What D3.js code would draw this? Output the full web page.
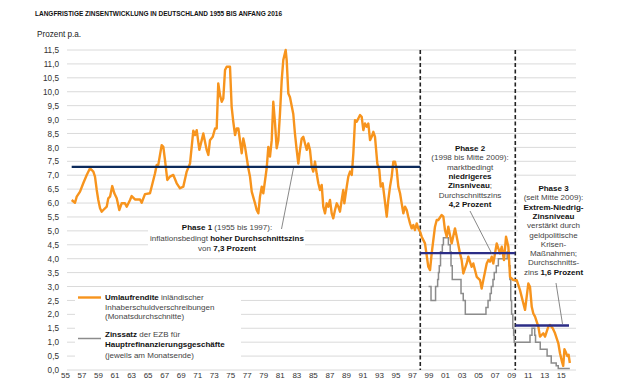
<!DOCTYPE html>
<html><head><meta charset="utf-8">
<script src="https://cdn.jsdelivr.net/npm/d3@7"></script>
<style>
body{margin:0;background:#fff;}
svg{display:block;font-family:"Liberation Sans",Arial,sans-serif;}
</style></head>
<body>
<svg id="c" width="621" height="383"></svg>
<script>
// ---- data ----
const umlaufYears = [1955.81,1956.21,1956.42,1956.82,1957.21,1957.63,1958.03,1958.43,1958.63,1958.84,1959.03,1959.24,1959.44,1959.64,1960.05,1960.24,1960.45,1960.72,1960.97,1961.26,1961.57,1961.86,1962.26,1962.47,1962.87,1963.07,1963.47,1964.08,1964.28,1964.68,1965.29,1965.89,1966.10,1966.29,1966.70,1966.90,1967.10,1967.38,1967.71,1968.11,1968.52,1968.92,1969.32,1969.73,1970.13,1970.53,1970.73,1970.94,1971.26,1971.55,1971.74,1972.15,1972.35,1972.55,1972.88,1973.16,1973.36,1973.55,1973.76,1973.97,1974.16,1974.37,1974.57,1974.97,1975.17,1975.37,1975.58,1975.78,1975.98,1976.39,1976.58,1976.79,1977.19,1977.39,1977.60,1978.00,1978.20,1978.40,1978.60,1978.81,1979.00,1979.41,1979.61,1979.81,1980.02,1980.21,1980.42,1980.62,1980.82,1981.02,1981.23,1981.42,1981.71,1981.83,1982.03,1982.23,1982.63,1982.83,1983.04,1983.24,1983.44,1983.65,1983.84,1984.05,1984.26,1984.45,1984.65,1984.86,1985.05,1985.26,1985.46,1985.66,1985.86,1986.07,1986.26,1986.47,1986.67,1986.87,1987.07,1987.28,1987.47,1987.68,1987.89,1988.08,1988.28,1988.49,1988.68,1988.81,1989.10,1989.29,1989.50,1989.71,1989.90,1990.10,1990.31,1990.50,1990.71,1990.91,1991.11,1991.31,1991.52,1991.71,1991.92,1992.12,1992.32,1992.52,1992.80,1993.04,1993.21,1993.45,1993.65,1993.94,1994.13,1994.34,1994.54,1994.74,1994.94,1995.15,1995.34,1995.55,1995.75,1995.95,1996.15,1996.36,1996.55,1996.76,1996.96,1997.16,1997.36,1997.57,1997.76,1997.97,1998.17,1998.57,1998.97,1999.18,1999.38,1999.78,1999.99,2000.18,2000.59,2000.79,2000.99,2001.20,2001.39,2001.80,2002.20,2002.41,2002.81,2003.01,2003.21,2003.62,2003.81,2004.22,2004.42,2004.83,2005.23,2005.43,2005.63,2006.04,2006.24,2006.44,2006.65,2006.84,2007.25,2007.65,2007.86,2008.13,2008.38,2008.66,2008.86,2009.26,2009.67,2010.07,2010.47,2010.68,2011.08,2011.28,2011.49,2011.68,2011.89,2012.29,2012.49,2012.89,2013.10,2013.50,2013.70,2014.03,2014.31,2014.71,2014.91,2015.15,2015.30,2015.45,2015.60,2015.80,2015.95,2016.10];
const umlaufValues = [6.11,6.01,6.23,6.41,6.71,7.01,7.25,7.13,6.95,6.47,6.11,5.81,5.69,5.75,5.87,6.17,6.23,6.61,6.35,6.17,5.75,5.99,5.99,5.87,6.11,6.25,6.13,6.13,6.01,6.32,6.35,7.06,7.37,7.37,8.08,8.02,7.55,6.83,6.95,7.01,6.71,6.53,6.59,7.13,7.42,8.60,8.44,8.62,7.91,8.26,8.50,7.91,7.73,8.26,8.38,8.68,8.68,10.30,9.88,9.64,9.76,10.78,10.90,10.90,9.46,8.92,8.44,8.68,8.68,7.79,8.32,8.02,7.25,6.95,6.41,5.99,5.75,5.63,6.23,6.59,6.35,7.25,8.02,7.67,8.26,9.64,8.86,7.97,8.26,9.22,10.42,11.14,11.50,11.14,9.94,9.80,9.20,8.50,7.91,7.42,7.91,8.32,8.38,8.14,7.91,8.14,7.91,7.31,7.13,7.49,7.06,6.71,6.47,6.65,5.87,5.63,5.99,5.87,6.11,5.63,5.45,5.75,5.99,5.87,5.69,6.11,6.47,5.99,6.59,6.95,7.13,7.01,7.79,8.98,8.92,9.04,9.16,9.10,8.62,8.86,8.74,8.86,8.26,8.38,8.56,8.38,7.42,7.19,6.59,6.71,6.23,5.51,6.11,6.59,6.95,7.49,7.49,7.19,6.59,6.35,5.99,5.63,5.87,5.75,5.51,5.27,5.09,5.21,5.03,5.27,5.09,4.97,4.79,4.55,3.71,3.59,4.19,5.15,5.39,5.39,5.57,5.51,5.03,4.79,5.15,4.55,5.09,4.79,4.19,3.95,3.47,3.83,4.07,3.71,3.83,3.35,3.23,2.93,3.23,3.83,3.95,3.89,4.07,3.83,4.55,4.19,4.43,3.95,4.79,4.43,3.35,3.23,3.23,2.87,2.40,2.16,3.11,2.99,2.27,2.03,1.92,1.56,1.20,1.32,1.20,1.56,1.62,1.50,1.32,0.96,0.60,0.30,0.15,0.75,0.65,0.50,0.55,0.25];
const ezbYears = [1999.0,1999.3,1999.85,2000.1,2000.2,2000.3,2000.45,2000.67,2000.8,2001.4,2001.62,2001.72,2001.87,2002.93,2003.2,2003.45,2005.95,2006.2,2006.45,2006.6,2006.8,2006.95,2007.2,2007.45,2008.52,2008.77,2008.85,2008.95,2009.05,2009.2,2009.3,2009.37,2011.28,2011.52,2011.85,2011.95,2012.52,2013.35,2013.85,2014.45,2014.7,2016.1];
const ezbValues = [3.0,2.5,3.0,3.25,3.5,3.75,4.25,4.5,4.75,4.5,4.25,3.75,3.25,2.75,2.5,2.0,2.25,2.5,2.75,3.0,3.25,3.5,3.75,4.0,4.25,3.75,3.25,2.5,2.0,1.5,1.25,1.0,1.25,1.5,1.25,1.0,0.75,0.5,0.25,0.15,0.05,0.05];
const phaseStarts = [1955.81, 1998.0, 2009.5];
const phaseEnds = [1998.0, 2009.5, 2016.0];
const phaseAverages = [7.3, 4.2, 1.6];
const phaseDividers = [1998.0, 2009.5];
const yTicks = [0,0.5,1,1.5,2,2.5,3,3.5,4,4.5,5,5.5,6,6.5,7,7.5,8,8.5,9,9.5,10,10.5,11,11.5];
const xTickYears = [1955,1957,1959,1961,1963,1965,1967,1969,1971,1973,1975,1977,1979,1981,1983,1985,1987,1989,1991,1993,1995,1997,1999,2001,2003,2005,2007,2009,2011,2013,2015];

// ---- chart ----
const svg = d3.select("#c");
const x = d3.scaleLinear().domain([1955, 2016]).range([65, 569]);
const y = d3.scaleLinear().domain([0, 11.5]).range([370, 50]);
const gridL = 67, gridR = 576;
const orange = "#f7941d", grey = "#8c8c8c";

svg.append("text").attr("x", 35).attr("y", 15.5).attr("font-size", 7.4).attr("font-weight", "bold")
  .attr("fill", "#111").attr("textLength", 247).attr("lengthAdjust", "spacingAndGlyphs")
  .text("LANGFRISTIGE ZINSENTWICKLUNG IN DEUTSCHLAND 1955 BIS ANFANG 2016");
svg.append("text").attr("x", 37).attr("y", 37).attr("font-size", 8.2).attr("fill", "#222").text("Prozent p.a.");

// gridlines
svg.append("g").selectAll("line").data(yTicks).join("line")
  .attr("x1", gridL).attr("x2", gridR).attr("y1", d => y(d)).attr("y2", d => y(d))
  .attr("stroke", "#dadada").attr("stroke-width", 1);

// y axis labels
const ya = svg.append("g").attr("transform", "translate(60,0)")
  .call(d3.axisLeft(y).tickValues(yTicks).tickSize(0).tickPadding(1)
    .tickFormat(d => d.toFixed(1).replace(".", ",")));
ya.select(".domain").remove();
ya.selectAll("text").attr("font-size", 8.2).attr("fill", "#333").attr("font-family", "Liberation Sans, Arial, sans-serif");

// x axis labels
const xa = svg.append("g").attr("transform", "translate(0,370)")
  .call(d3.axisBottom(x).tickValues(xTickYears).tickSize(0).tickPadding(2.5)
    .tickFormat(d => String(d % 100).padStart(2, "0")));
xa.select(".domain").remove();
xa.selectAll("text").attr("font-size", 8).attr("fill", "#333").attr("font-family", "Liberation Sans, Arial, sans-serif");

// white boxes behind annotations
const boxes = [[148,220,157,33],[75,289,166,73],[423,139,90,73],[518,182,58,95]];
svg.append("g").selectAll("rect").data(boxes).join("rect")
  .attr("x", d => d[0]).attr("y", d => d[1]).attr("width", d => d[2]).attr("height", d => d[3]).attr("fill", "#fff");

// dividers
svg.append("g").selectAll("line").data(phaseDividers).join("line")
  .attr("x1", d => x(d)).attr("x2", d => x(d)).attr("y1", y(11.5)).attr("y2", y(0))
  .attr("stroke", "#222").attr("stroke-width", 1.6).attr("stroke-dasharray", "4,2.5");

// series
const ezb = ezbYears.map((d, i) => [d, ezbValues[i]]);
svg.append("path").datum(ezb).attr("fill", "none").attr("stroke", grey).attr("stroke-width", 1.5)
  .attr("d", d3.line().x(d => x(d[0])).y(d => y(d[1])).curve(d3.curveStepAfter));
const um = umlaufYears.map((d, i) => [d, umlaufValues[i]]);
svg.append("path").datum(um).attr("fill", "none").attr("stroke", orange).attr("stroke-width", 2.4)
  .attr("stroke-linejoin", "round")
  .attr("d", d3.line().x(d => x(d[0])).y(d => y(d[1])));

// phase averages
const phaseColors = ["#0c2a5b", "#2b2d86", "#2b2d86"];
svg.append("g").selectAll("line").data(phaseAverages).join("line")
  .attr("x1", (d, i) => x(phaseStarts[i])).attr("x2", (d, i) => x(phaseEnds[i]))
  .attr("y1", d => y(d)).attr("y2", d => y(d))
  .attr("stroke", (d, i) => phaseColors[i]).attr("stroke-width", 2.4);

// leader lines
const leaders = [[281.5,229,293.5,168],[470,211,492,254],[556,283,562.5,324]];
svg.append("g").selectAll("line").data(leaders).join("line")
  .attr("x1", d => d[0]).attr("y1", d => d[1]).attr("x2", d => d[2]).attr("y2", d => d[3])
  .attr("stroke", "#555").attr("stroke-width", 0.7);

// text helper: lines of segments [text, bold]
function block(cx, y0, dy, lines, anchor) {
  const g = svg.append("g");
  lines.forEach((segs, i) => {
    const t = g.append("text").attr("x", cx).attr("y", y0 + i * dy).attr("font-size", 8)
      .attr("text-anchor", anchor || "middle");
    segs.forEach(s => t.append("tspan").text(s[0])
      .attr("font-weight", s[1] ? "bold" : "normal").attr("fill", s[1] ? "#111" : "#444"));
  });
}
block(227, 230, 10.5, [
  [["Phase 1", 1], [" (1955 bis 1997):", 0]],
  [["inflationsbedingt ", 0], ["hoher Durchschnittszins", 1]],
  [["von ", 0], ["7,3 Prozent", 1]]
]);
block(470, 151, 9.3, [
  [["Phase 2", 1]],
  [["(1998 bis Mitte 2009):", 0]],
  [["marktbedingt", 0]],
  [["niedrigeres", 1]],
  [["Zinsniveau", 1], [";", 0]],
  [["Durchschnittszins", 0]],
  [["4,2 Prozent", 1]]
]);
block(553.5, 191, 9.3, [
  [["Phase 3", 1]],
  [["(seit Mitte 2009):", 0]],
  [["Extrem-Niedrig-", 1]],
  [["Zinsniveau", 1]],
  [["verstärkt durch", 0]],
  [["geldpolitische", 0]],
  [["Krisen-", 0]],
  [["Maßnahmen;", 0]],
  [["Durchschnitts-", 0]],
  [["zins ", 0], ["1,6 Prozent", 1]]
]);

// legend
svg.append("line").attr("x1", 78).attr("x2", 101).attr("y1", 297.5).attr("y2", 297.5).attr("stroke", orange).attr("stroke-width", 2.4);
svg.append("line").attr("x1", 78).attr("x2", 101).attr("y1", 338.5).attr("y2", 338.5).attr("stroke", grey).attr("stroke-width", 1.5);
block(105, 300, 9.6, [
  [["Umlaufrendite", 1], [" inländischer", 0]],
  [["Inhaberschuldverschreibungen", 0]],
  [["(Monatsdurchschnitte)", 0]]
], "start");
block(105, 337, 10.3, [
  [["Zinssatz", 1], [" der EZB für", 0]],
  [["Hauptrefinanzierungsgeschäfte", 1]],
  [["(jeweils am Monatsende)", 0]]
], "start");
</script>
</body></html>
